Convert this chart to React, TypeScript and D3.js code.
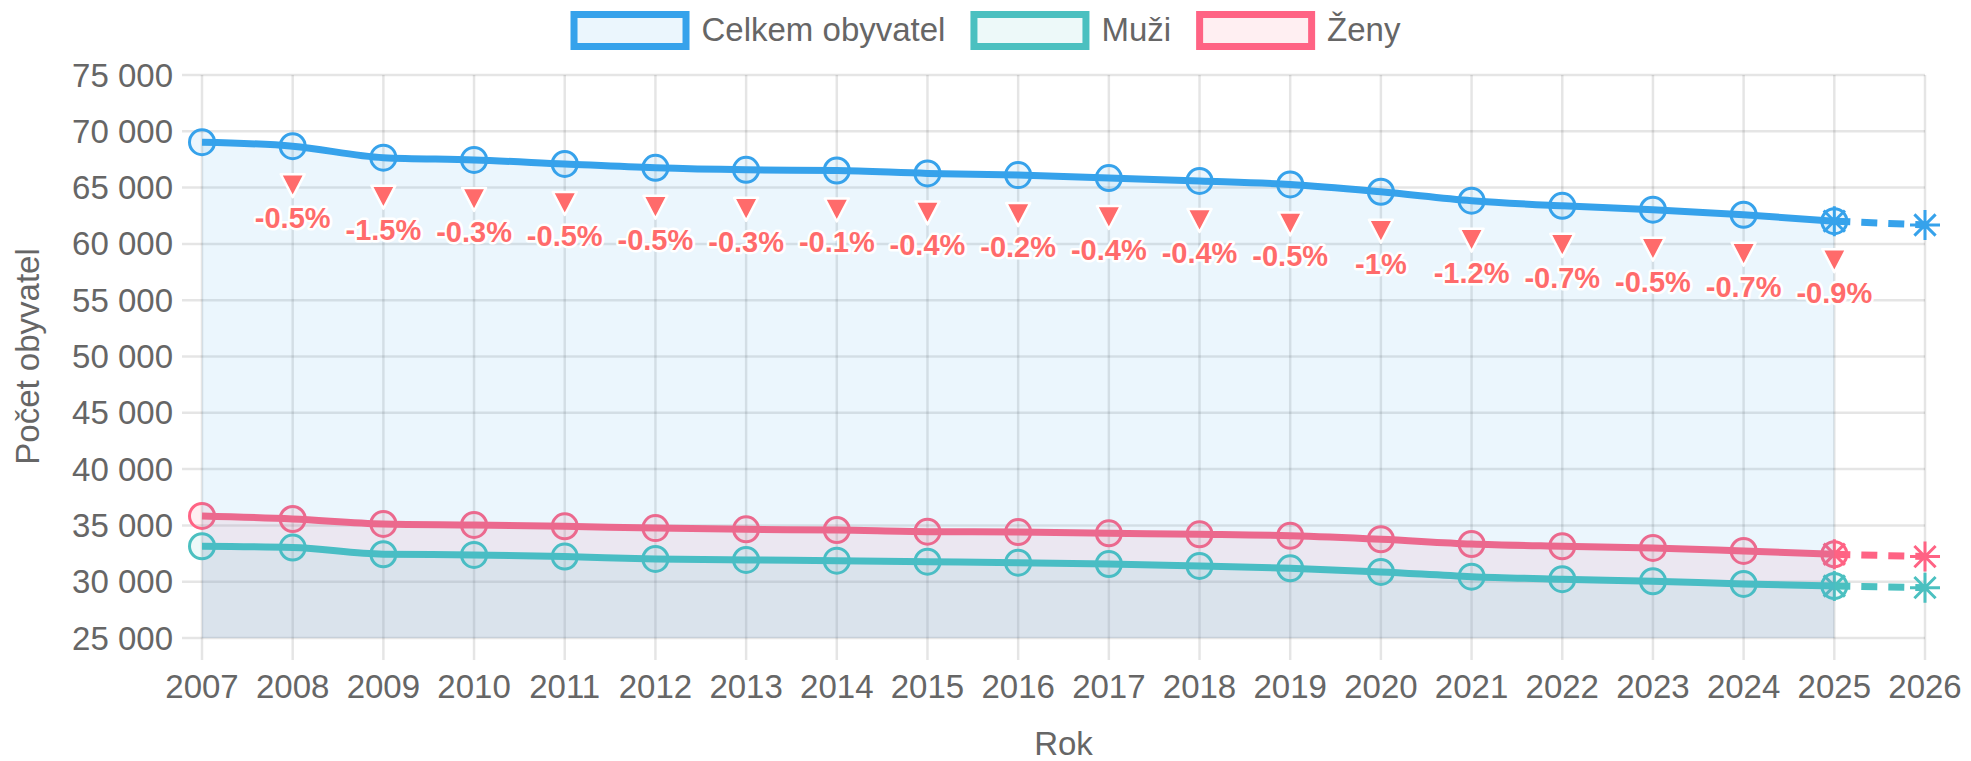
import React from 'react';
import * as d3 from 'd3';

// years with measured data
const years = [2007, 2008, 2009, 2010, 2011, 2012, 2013, 2014, 2015, 2016, 2017, 2018, 2019, 2020, 2021, 2022, 2023, 2024, 2025];
const axisYears = [2007, 2008, 2009, 2010, 2011, 2012, 2013, 2014, 2015, 2016, 2017, 2018, 2019, 2020, 2021, 2022, 2023, 2024, 2025, 2026];
const projectionYears = [2025, 2026];

const total = [69030, 68680, 67660, 67460, 67100, 66760, 66580, 66520, 66260, 66110, 65850, 65590, 65280, 64630, 63840, 63380, 63040, 62590, 62020];
const men = [33150, 33030, 32440, 32380, 32230, 32020, 31930, 31870, 31780, 31690, 31570, 31400, 31190, 30870, 30450, 30220, 30040, 29800, 29620];
const women = [35840, 35570, 35130, 35040, 34920, 34760, 34650, 34590, 34440, 34410, 34300, 34210, 34080, 33770, 33350, 33150, 33000, 32730, 32440];

const totalProjection = [62020, 61680];
const menProjection = [29620, 29470];
const womenProjection = [32440, 32230];

// year-on-year change of the total, 2008..2025
const changeLabels = ['-0.5%', '-1.5%', '-0.3%', '-0.5%', '-0.5%', '-0.3%', '-0.1%', '-0.4%', '-0.2%', '-0.4%', '-0.4%', '-0.5%', '-1%', '-1.2%', '-0.7%', '-0.5%', '-0.7%', '-0.9%'];

const yTicks = [25000, 30000, 35000, 40000, 45000, 50000, 55000, 60000, 65000, 70000, 75000];

const seriesNames = ['Celkem obyvatel', 'Muži', 'Ženy'];

const FONT = '"Liberation Sans", Arial, Helvetica, sans-serif';
const TEXT = '#666';
const GRID = 'rgba(0,0,0,0.1)';

const colors = {
  total: { line: 'rgb(54,162,235)', fill: 'rgba(54,162,235,0.1)' },
  men: { line: 'rgb(75,192,192)', fill: 'rgba(75,192,192,0.1)' },
  women: { line: 'rgb(255,99,132)', fill: 'rgba(255,99,132,0.1)' },
};
const legendColors = [colors.total, colors.men, colors.women];
const DOWN = '#ff6b6b';

const czLocale = d3.formatLocale({ decimal: ',', thousands: '\u00a0', grouping: [3], currency: ['', ' Kč'] });
const fmt = czLocale.format(',d');

function measure(text: string, font: string) {
  const c = document.createElement('canvas').getContext('2d');
  if (!c) return text.length * 17;
  c.font = font;
  return c.measureText(text).width;
}

function starPath(cx: number, cy: number, r: number) {
  const d = r * Math.SQRT1_2;
  return `M${cx - r},${cy}L${cx + r},${cy}M${cx},${cy - r}L${cx},${cy + r}` +
    `M${cx - d},${cy - d}L${cx + d},${cy + d}M${cx - d},${cy + d}L${cx + d},${cy - d}`;
}

export default function App() {
  const width = 1971;
  const height = 761;
  const left = 202, right = 1925, top = 75, bottom = 638;

  const x = d3.scalePoint<number>().domain(axisYears).range([left, right]);
  const y = d3.scaleLinear().domain([25000, 75000]).range([bottom, top]);

  const line = d3.line<number>()
    .x((_, i) => x(years[i]) as number)
    .y(d => y(d))
    .curve(d3.curveMonotoneX);
  const area = d3.area<number>()
    .x((_, i) => x(years[i]) as number)
    .y0(bottom)
    .y1(d => y(d))
    .curve(d3.curveMonotoneX);
  const projLine = d3.line<number>()
    .x((_, i) => x(projectionYears[i]) as number)
    .y(d => y(d));

  const series = [
    { key: 'women', data: women, proj: womenProjection, c: colors.women },
    { key: 'men', data: men, proj: menProjection, c: colors.men },
    { key: 'total', data: total, proj: totalProjection, c: colors.total },
  ];

  // legend layout
  const legendFont = `33px ${FONT}`;
  const boxW = 112, boxH = 32, textOff = 131, gap = 25;
  const widths = seriesNames.map(n => textOff + measure(n, legendFont));
  const legendTotal = d3.sum(widths) + gap * (seriesNames.length - 1);
  let lx = width / 2 - legendTotal / 2;
  const legendPos = widths.map(w => { const p = lx; lx += w + gap; return p; });

  return (
    <svg width={width} height={height} style={{ position: 'absolute', left: 0, top: 0, background: '#fff' }}
      fontFamily={FONT}>
      {/* legend */}
      {seriesNames.map((n, i) => (
        <g key={n}>
          <rect x={legendPos[i] + 3.5} y={14.5} width={boxW} height={boxH}
            fill={legendColors[i].fill} stroke={legendColors[i].line} strokeWidth={7} />
          <text x={legendPos[i] + textOff} y={41} fontSize={33} fill={TEXT}>{n}</text>
        </g>
      ))}

      {/* grid */}
      {yTicks.map(t => (
        <line key={'gy' + t} x1={left - 20} x2={right} y1={y(t)} y2={y(t)} stroke={GRID} strokeWidth={2.5} />
      ))}
      {axisYears.map(yr => (
        <line key={'gx' + yr} x1={x(yr)} x2={x(yr)} y1={top} y2={bottom + 22} stroke={GRID} strokeWidth={2.5} />
      ))}

      {/* y ticks */}
      {yTicks.map(t => (
        <text key={'ty' + t} x={173} y={y(t)} dy="0.35em" textAnchor="end" fontSize={33} fill={TEXT}>{fmt(t)}</text>
      ))}
      {/* x ticks */}
      {axisYears.map(yr => (
        <text key={'tx' + yr} x={x(yr)} y={698} textAnchor="middle" fontSize={33} fill={TEXT}>{yr}</text>
      ))}

      <text transform={`translate(39,${(top + bottom) / 2}) rotate(-90)`} textAnchor="middle" fontSize={33} fill={TEXT}>Počet obyvatel</text>
      <text x={(left + right) / 2} y={755} textAnchor="middle" fontSize={33} fill={TEXT}>Rok</text>

      {/* projections (drawn first) */}
      {series.map(s => (
        <g key={'p' + s.key}>
          <path d={projLine(s.proj) || ''} fill="none" stroke={s.c.line} strokeWidth={7} strokeDasharray="16,11" />
          {s.proj.map((v, i) => (
            <path key={i} d={starPath(x(projectionYears[i]) as number, y(v), 15)} stroke={s.c.line} strokeWidth={3} fill="none" />
          ))}
        </g>
      ))}

      {/* datasets in reverse order: women, men, total */}
      {series.map(s => (
        <g key={s.key}>
          <path d={area(s.data) || ''} fill={s.c.fill} />
          <path d={line(s.data) || ''} fill="none" stroke={s.c.line} strokeWidth={7} strokeLinejoin="round" />
          {s.data.map((v, i) => (
            <circle key={i} cx={x(years[i])} cy={y(v)} r={12.5} fill={s.c.fill} stroke={s.c.line} strokeWidth={3} />
          ))}
        </g>
      ))}

      {/* change markers */}
      {changeLabels.map((lbl, i) => {
        const yr = years[i + 1];
        const cx = x(yr) as number;
        const cy = y(total[i + 1]);
        const t0 = cy + 28;
        return (
          <g key={'c' + yr}>
            <path d={`M${cx - 12},${t0}L${cx + 12},${t0}L${cx},${t0 + 23}Z`} fill={DOWN} stroke="#fff" strokeWidth={2.5} strokeLinejoin="round" />
            <text x={cx} y={cy + 82} textAnchor="middle" fontSize={29} fontWeight="bold" fill={DOWN}
              stroke="#fff" strokeWidth={5} strokeLinejoin="round" style={{ paintOrder: 'stroke' }}>{lbl}</text>
          </g>
        );
      })}
    </svg>
  );
}
